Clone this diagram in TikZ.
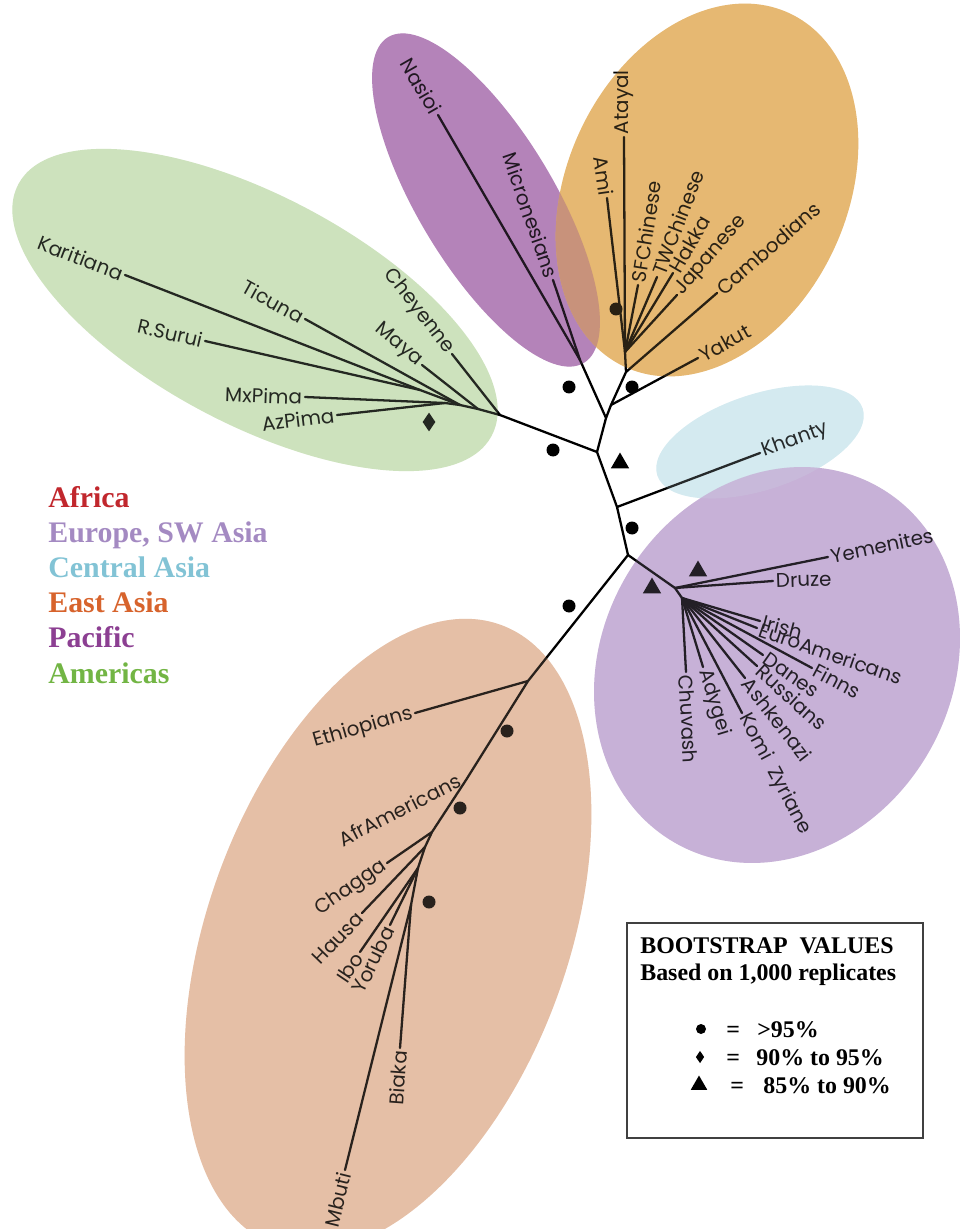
\documentclass[tikz,border=0pt]{standalone}
\usepackage{fontspec}
\setmainfont{Liberation Serif}
\setsansfont{Poppins}
\usetikzlibrary{shapes.geometric}

\definecolor{amerfill}{RGB}{205,226,189}
\definecolor{pacfill}{RGB}{180,131,185}
\definecolor{eastfill}{RGB}{230,184,114}
\definecolor{centfill}{RGB}{212,234,240}
\definecolor{eurofill}{RGB}{199,177,215}
\definecolor{afrfill}{RGB}{229,191,166}
\definecolor{mixfill}{RGB}{198,140,112}
\definecolor{afrtext}{RGB}{193,39,45}
\definecolor{eurtext}{RGB}{164,138,194}
\definecolor{centtext}{RGB}{130,195,213}
\definecolor{easttext}{RGB}{215,99,44}
\definecolor{pactext}{RGB}{140,63,146}
\definecolor{amertext}{RGB}{114,181,68}

\begin{document}
\begin{tikzpicture}[x=0.02cm, y=-0.02cm,
	branch/.style={line width=1.3pt, line cap=round, black},
	leaf/.style={font=\sffamily\fontsize{11.3}{12}\selectfont, inner sep=1.5pt, text=black},
	bdot/.style={circle, fill=black, inner sep=0pt, minimum size=0.26cm},
	bdia/.style={diamond, fill=black, inner sep=0pt, minimum width=0.26cm, minimum height=0.38cm},
	btri/.style={regular polygon, regular polygon sides=3, fill=black, inner sep=0pt, minimum size=0.42cm},
	region/.style={font=\rmfamily\bfseries\fontsize{17}{20}\selectfont, anchor=base west, inner sep=0pt},
	keytext/.style={font=\rmfamily\bfseries\fontsize{13.6}{16}\selectfont, anchor=base west, inner sep=0pt},
	keydot/.style={circle, fill=black, inner sep=0pt, minimum size=0.2cm},
	keydia/.style={diamond, fill=black, inner sep=0pt, minimum width=0.17cm, minimum height=0.25cm},
	keytri/.style={regular polygon, regular polygon sides=3, fill=black, inner sep=0pt, minimum size=0.38cm}]

	\useasboundingbox (0,0) rectangle (964,1229);

	\def \blobs {amerfill/255/310/-28/268/114, pacfill/486/200/-59/190/68,
		eastfill/707/190/65/195/140, centfill/760/442/18/108/48,
		eurofill/777/665/60/205/175, afrfill/388/935/70/330/180}

	% coloured regions
	\foreach \c/\cx/\cy/\ang/\a/\b in \blobs
	{
		\fill[\c, rotate around={\ang:(\cx,\cy)}] (\cx,\cy) ellipse [x radius=\a, y radius=\b];
	}
	\begin{scope}
		\clip[rotate around={-59:(486,200)}] (486,200) ellipse [x radius=190, y radius=68];
		\fill[mixfill, rotate around={65:(707,190)}] (707,190) ellipse [x radius=195, y radius=140];
	\end{scope}

	% inner nodes of the tree
	\coordinate (am0) at (500,415);
	\coordinate (am1) at (478,409);
	\coordinate (am2) at (460,405);
	\coordinate (kr) at (420,390);
	\coordinate (pima) at (445,403);
	\coordinate (A) at (597,452);
	\coordinate (B) at (606,418);
	\coordinate (C) at (617,507);
	\coordinate (D) at (628,555);
	\coordinate (pac) at (580,360);
	\coordinate (ea3) at (611,405);
	\coordinate (ea2) at (626,372);
	\coordinate (ea) at (625,352);
	\coordinate (eu) at (675,588);
	\coordinate (eu2) at (682,598);
	\coordinate (af0) at (528,681);
	\coordinate (afr) at (466,780);
	\coordinate (af2) at (432,832);
	\coordinate (af3) at (425,847);
	\coordinate (af4) at (418,868);
	\coordinate (pyg) at (411,905);

	\draw[branch] (am0) -- (A) -- (C) -- (D) -- (af0) -- (afr) -- (af2) -- (af3) -- (af4) -- (pyg);
	\draw[branch] (A) -- (B) -- (pac);
	\draw[branch] (B) -- (ea3) -- (ea2) -- (ea);
	\draw[branch] (D) -- (eu) -- (eu2);
	\draw[branch] (am0) -- (am1) -- (am2) -- (kr);
	\draw[branch] (am2) -- (pima);

	% leaves read towards the tree
	\foreach \nm/\txt/\px/\py/\ang/\up in {kar/Karitiana/125/275/-21/kr, rsur/R.Surui/205/341/-13/kr,
		ticuna/Ticuna/305/319/-29/am2, maya/Maya/422/365/-40/am1, chey/Cheyenne/452/354/-52/am0,
		mxp/MxPima/305/397/-2/pima, azp/AzPima/337/415/7/pima,
		nasioi/Nasioi/438/115/-60/pac, micro/Micronesians/553/280/-71/pac, ami/Ami/607/198/-82/ea,
		ethio/Ethiopians/415/713/16/af0, chagga/Chagga/387/863/35/af2, hausa/Hausa/362/913/46/af3,
		ibo/Ibo/360/952/56/af4, yoruba/Yoruba/390/925/64/af4,
		biaka/Biaka/400/1048/86/pyg, mbuti/Mbuti/345/1170/76/pyg}
	{
		\node[leaf, anchor=east, rotate=\ang] (\nm) at (\px,\py) {\txt};
		\draw[branch] (\nm.east) -- (\up);
	}
	\node[leaf, anchor=east, rotate=27] (afram) at (462,778) {AfrAmericans};

	% leaves read away from the tree
	\foreach \nm/\txt/\px/\py/\ang/\up in {atayal/Atayal/624/137/90/ea, sfch/SFChinese/638/285/81/ea,
		twch/TWChinese/657/277/69/ea, hakka/Hakka/673/273/60/ea, japan/Japanese/677/295/49/ea,
		camb/Cambodians/717/293/41/ea2, yakut/Yakut/698/358/29/ea3, khanty/Khanty/760/453/20/C,
		yemen/Yemenites/828/557/12/eu, druze/Druze/773/581/2/eu,
		irish/Irish/760/621/-15/eu2, euram/EuroAmericans/757/628/-19/eu2, finns/Finns/812/668/-28/eu2,
		danes/Danes/763/655/-35/eu2, russ/Russians/757/666/-42/eu2, ashk/Ashkenazi/745/678/-52/eu2,
		komi/Komi\ \ Zyriane/742/713/-62/eu2, adyg/Adygei/703/667/-73/eu2, chuv/Chuvash/686/672/-87/eu2}
	{
		\node[leaf, anchor=west, rotate=\ang] (\nm) at (\px,\py) {\txt};
		\draw[branch] (\nm.west) -- (\up);
	}

	% bootstrap marks
	\foreach \px/\py [count=\i] in {616/309, 569/387, 632/387, 553/450, 632/528, 569/606, 507/731, 460/808, 429/902}
	{
		\node[bdot] (dot\i) at (\px,\py) {};
	}
	\node[bdia] (dia1) at (429,422) {};
	\foreach \px/\py [count=\i] in {620/463, 652/588, 698/571}
	{
		\node[btri] (tri\i) at (\px,\py) {};
	}

	% tint the tree inside the regions
	\foreach \c/\cx/\cy/\ang/\a/\b in \blobs
	{
		\fill[\c, fill opacity=0.18, rotate around={\ang:(\cx,\cy)}] (\cx,\cy) ellipse [x radius=\a, y radius=\b];
	}

	% region names
	\foreach \c/\txt [count=\i from 0] in {afrtext/Africa, eurtext/{Europe, SW Asia}, centtext/Central Asia,
		easttext/East Asia, pactext/Pacific, amertext/Americas}
	{
		\node[region, text=\c] (reg\i) at (48,{507+35.2*\i}) {\txt};
	}

	% key box
	\draw[line width=0.7pt, black!75] (627,923) rectangle (923,1138);
	\node[keytext] (bshead) at (640,953) {BOOTSTRAP\ \ VALUES};
	\node[keytext] (bssub) at (640,980) {Based on 1,000 replicates};
	\node[keydot] (kdot) at (701,1029) {};
	\node[keytext] (kdoteq) at (726,1037) {=};
	\node[keytext] (kdotval) at (757,1037) {>95\%};
	\node[keydia] (kdia) at (700,1057) {};
	\node[keytext] (kdiaeq) at (726,1065) {=};
	\node[keytext] (kdiaval) at (756,1065) {90\% to 95\%};
	\node[keytri] (ktri) at (699,1085) {};
	\node[keytext] (ktrieq) at (730,1093) {=};
	\node[keytext] (ktrival) at (763,1093) {85\% to 90\%};
\end{tikzpicture}
\end{document}
